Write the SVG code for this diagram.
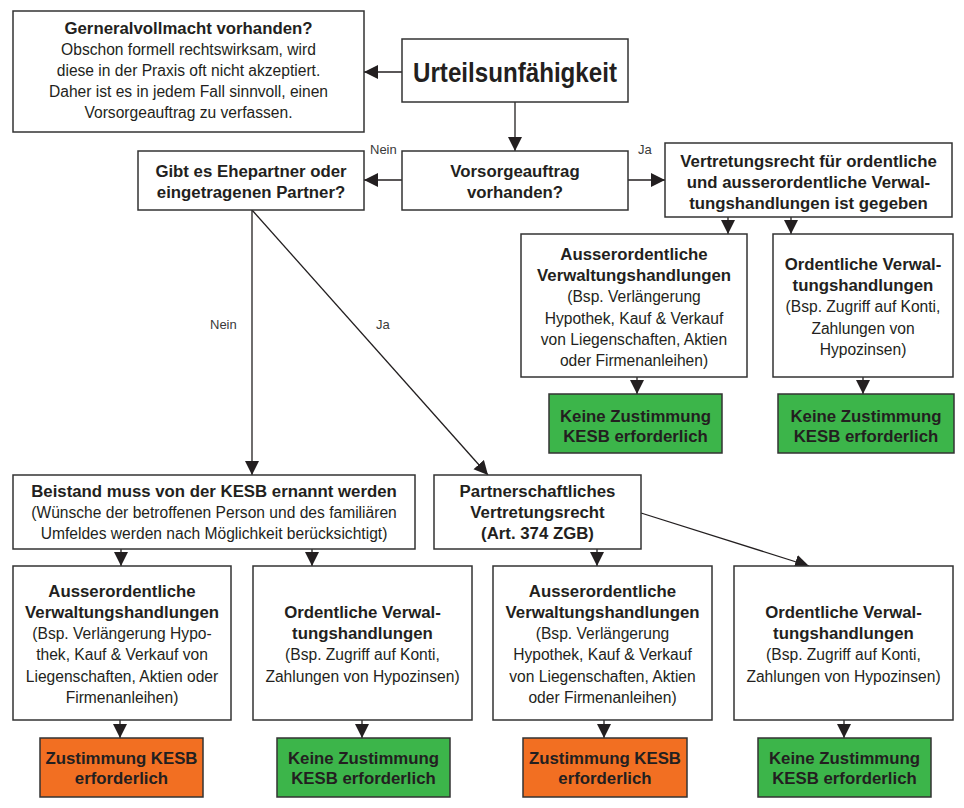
<svg xmlns="http://www.w3.org/2000/svg" width="964" height="808" viewBox="0 0 964 808">
<defs>
<style>
.box{fill:#fff;stroke:#333;stroke-width:1.5}
.green{fill:#3cb54a;stroke:#333;stroke-width:1.5}
.orange{fill:#f26f22;stroke:#333;stroke-width:1.5}
text{font-family:"Liberation Sans",Arial,sans-serif;fill:#231f20;text-anchor:middle}
.b{font-weight:bold;font-size:16.8px}
.r{font-size:15.6px}
.lbl{font-size:13px;fill:#3a3a3a;text-anchor:start}
.conn line{stroke:#231f20;stroke-width:1.3;marker-end:url(#ah)}
</style>
<marker id="ah" markerUnits="userSpaceOnUse" markerWidth="15" markerHeight="15" viewBox="0 0 15 15" refX="14" refY="7.5" orient="auto">
<path d="M0,0.5 L14,7.5 L0,14.5 z" fill="#231f20"/>
</marker>
</defs>
<rect width="964" height="808" fill="#fff"/>

<g id="connectors" class="conn">
<line x1="402" y1="72" x2="364" y2="72"/>
<line x1="515" y1="102" x2="515" y2="151"/>
<line x1="402" y1="180" x2="364" y2="180"/>
<line x1="628" y1="180" x2="665" y2="180"/>
<line x1="728" y1="217" x2="728" y2="234"/>
<line x1="791" y1="217" x2="791" y2="234"/>
<line x1="637" y1="377" x2="637" y2="394"/>
<line x1="863" y1="377" x2="863" y2="394"/>
<line x1="252" y1="210" x2="252" y2="475"/>
<line x1="252" y1="210" x2="488" y2="475"/>
<line x1="121" y1="549" x2="121" y2="566"/>
<line x1="312" y1="549" x2="312" y2="566"/>
<line x1="597" y1="549" x2="597" y2="566"/>
<line x1="641" y1="513" x2="809" y2="566"/>
<line x1="120" y1="720" x2="120" y2="738"/>
<line x1="362" y1="720" x2="362" y2="738"/>
<line x1="604" y1="720" x2="604" y2="738"/>
<line x1="844" y1="720" x2="844" y2="738"/>
<text class="lbl" x="370" y="154">Nein</text>
<text class="lbl" x="638" y="154">Ja</text>
<text class="lbl" x="210" y="329">Nein</text>
<text class="lbl" x="376" y="329">Ja</text>
</g>

<g id="generalvollmacht">
<rect class="box" x="13" y="11" width="351" height="121"/>
<text class="b" x="188.5" y="34">Gerneralvollmacht vorhanden?</text>
<text class="r" x="188.5" y="55">Obschon formell rechtswirksam, wird</text>
<text class="r" x="188.5" y="76">diese in der Praxis oft nicht akzeptiert.</text>
<text class="r" x="188.5" y="97">Daher ist es in jedem Fall sinnvoll, einen</text>
<text class="r" x="188.5" y="118">Vorsorgeauftrag zu verfassen.</text>
</g>

<g id="urteilsunfaehigkeit">
<rect class="box" x="402" y="39" width="226" height="63"/>
<text class="b" x="515" y="82" style="font-size:27px" textLength="204" lengthAdjust="spacingAndGlyphs">Urteilsunfähigkeit</text>
</g>

<g id="vorsorgeauftrag">
<rect class="box" x="402" y="151" width="226" height="59"/>
<text class="b" x="515" y="177">Vorsorgeauftrag</text>
<text class="b" x="515" y="198">vorhanden?</text>
</g>

<g id="ehepartner">
<rect class="box" x="138" y="151" width="226" height="59"/>
<text class="b" x="251" y="177">Gibt es Ehepartner oder</text>
<text class="b" x="251" y="198">eingetragenen Partner?</text>
</g>

<g id="vertretungsrecht">
<rect class="box" x="665" y="143" width="287" height="74"/>
<text class="b" x="808.5" y="167">Vertretungsrecht für ordentliche</text>
<text class="b" x="808.5" y="188">und ausserordentliche Verwal-</text>
<text class="b" x="808.5" y="209">tungshandlungen ist gegeben</text>
</g>

<g id="ausserordentlich-vorsorge">
<rect class="box" x="521" y="234" width="226" height="143"/>
<text class="b" x="634" y="260">Ausserordentliche</text>
<text class="b" x="634" y="281">Verwaltungshandlungen</text>
<text class="r" x="634" y="302">(Bsp. Verlängerung</text>
<text class="r" x="634" y="324">Hypothek, Kauf &amp; Verkauf</text>
<text class="r" x="634" y="345">von Liegenschaften, Aktien</text>
<text class="r" x="634" y="366">oder Firmenanleihen)</text>
</g>

<g id="ordentlich-vorsorge">
<rect class="box" x="773" y="234" width="180" height="143"/>
<text class="b" x="863" y="270">Ordentliche Verwal-</text>
<text class="b" x="863" y="291">tungshandlungen</text>
<text class="r" x="863" y="312">(Bsp. Zugriff auf Konti,</text>
<text class="r" x="863" y="334">Zahlungen von</text>
<text class="r" x="863" y="355">Hypozinsen)</text>
</g>

<g id="keine-zustimmung-1">
<rect class="green" x="549" y="394" width="173" height="59"/>
<text class="b" x="635.5" y="422">Keine Zustimmung</text>
<text class="b" x="635.5" y="442">KESB erforderlich</text>
</g>

<g id="keine-zustimmung-2">
<rect class="green" x="778" y="394" width="176" height="59"/>
<text class="b" x="866" y="422">Keine Zustimmung</text>
<text class="b" x="866" y="442">KESB erforderlich</text>
</g>

<g id="beistand">
<rect class="box" x="13" y="475" width="402" height="74"/>
<text class="b" x="214" y="497">Beistand muss von der KESB ernannt werden</text>
<text class="r" x="214" y="518">(Wünsche der betroffenen Person und des familiären</text>
<text class="r" x="214" y="539">Umfeldes werden nach Möglichkeit berücksichtigt)</text>
</g>

<g id="partnerschaftliches-vertretungsrecht">
<rect class="box" x="434" y="475" width="207" height="74"/>
<text class="b" x="537.5" y="497">Partnerschaftliches</text>
<text class="b" x="537.5" y="518">Vertretungsrecht</text>
<text class="b" x="537.5" y="539">(Art. 374 ZGB)</text>
</g>

<g id="ausserordentlich-beistand">
<rect class="box" x="13" y="566" width="218" height="154"/>
<text class="b" x="122" y="597">Ausserordentliche</text>
<text class="b" x="122" y="618">Verwaltungshandlungen</text>
<text class="r" x="122" y="639">(Bsp. Verlängerung Hypo-</text>
<text class="r" x="122" y="660">thek, Kauf &amp; Verkauf von</text>
<text class="r" x="122" y="682">Liegenschaften, Aktien oder</text>
<text class="r" x="122" y="703">Firmenanleihen)</text>
</g>

<g id="ordentlich-beistand">
<rect class="box" x="253" y="566" width="219" height="154"/>
<text class="b" x="362.5" y="618">Ordentliche Verwal-</text>
<text class="b" x="362.5" y="639">tungshandlungen</text>
<text class="r" x="362.5" y="660">(Bsp. Zugriff auf Konti,</text>
<text class="r" x="362.5" y="682">Zahlungen von Hypozinsen)</text>
</g>

<g id="ausserordentlich-partner">
<rect class="box" x="493" y="566" width="219" height="154"/>
<text class="b" x="602.5" y="597">Ausserordentliche</text>
<text class="b" x="602.5" y="618">Verwaltungshandlungen</text>
<text class="r" x="602.5" y="639">(Bsp. Verlängerung</text>
<text class="r" x="602.5" y="660">Hypothek, Kauf &amp; Verkauf</text>
<text class="r" x="602.5" y="682">von Liegenschaften, Aktien</text>
<text class="r" x="602.5" y="703">oder Firmenanleihen)</text>
</g>

<g id="ordentlich-partner">
<rect class="box" x="734" y="566" width="219" height="154"/>
<text class="b" x="843.5" y="618">Ordentliche Verwal-</text>
<text class="b" x="843.5" y="639">tungshandlungen</text>
<text class="r" x="843.5" y="660">(Bsp. Zugriff auf Konti,</text>
<text class="r" x="843.5" y="682">Zahlungen von Hypozinsen)</text>
</g>

<g id="zustimmung-beistand">
<rect class="orange" x="40" y="738" width="163" height="59"/>
<text class="b" x="121.5" y="764">Zustimmung KESB</text>
<text class="b" x="121.5" y="784">erforderlich</text>
</g>

<g id="keine-zustimmung-beistand">
<rect class="green" x="277" y="738" width="173" height="59"/>
<text class="b" x="363.5" y="764">Keine Zustimmung</text>
<text class="b" x="363.5" y="784">KESB erforderlich</text>
</g>

<g id="zustimmung-partner">
<rect class="orange" x="523" y="738" width="164" height="59"/>
<text class="b" x="605" y="764">Zustimmung KESB</text>
<text class="b" x="605" y="784">erforderlich</text>
</g>

<g id="keine-zustimmung-partner">
<rect class="green" x="758" y="738" width="173" height="59"/>
<text class="b" x="844.5" y="764">Keine Zustimmung</text>
<text class="b" x="844.5" y="784">KESB erforderlich</text>
</g>
</svg>
